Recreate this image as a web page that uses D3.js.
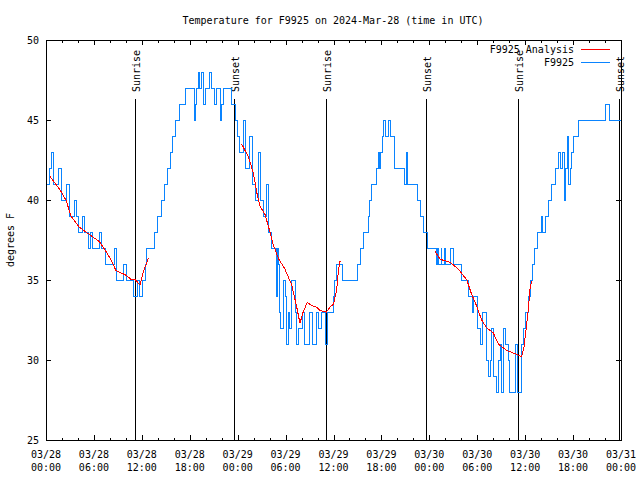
<!DOCTYPE html>
<html>
<head>
<meta charset="utf-8">
<script src="https://cdn.jsdelivr.net/npm/d3@7"></script>
<style>
  html, body { margin: 0; padding: 0; background: #fff; }
  svg { display: block; }
  text { font-family: "DejaVu Sans Mono", "Liberation Mono", monospace; font-size: 10px; fill: #000; }
</style>
</head>
<body>
<svg id="chart" width="640" height="480"></svg>
<script>
// ---- Data (time in hours since 2024-03-28 00:00 UTC) ----
const obsHours = [
  0.00, 0.50, 0.71, 0.92, 1.59, 1.96, 2.59, 2.92, 3.59, 3.84, 4.01, 4.59, 4.76, 5.34, 5.63, 5.84,
  6.68, 6.89, 7.51, 8.56, 8.85, 9.68, 10.02, 10.94, 11.48, 11.77, 12.10, 12.40, 12.60, 13.56, 13.98,
  14.40, 14.80, 15.20, 15.55, 15.90, 16.25, 16.70, 17.45,
  18.55, 18.70, 18.87, 19.07, 19.28, 19.49, 19.70, 19.91, 20.53, 20.74, 21.16, 21.37, 21.79, 22.00,
  22.20, 23.25, 23.67, 23.96, 24.29, 24.71, 24.92, 25.54, 25.88, 26.29, 26.59, 26.88, 27.21, 27.63,
  27.88, 28.26, 28.80, 28.97, 29.09, 29.22, 29.38, 29.72, 29.97, 30.13, 30.34, 30.55, 30.76, 31.22,
  31.39, 31.64, 32.14, 32.43, 33.05, 33.39, 33.81, 34.10, 34.52, 35.06, 35.29, 35.77, 36.06, 36.18,
  36.39, 37.15, 38.98, 39.32, 39.73, 40.36, 40.57, 40.78, 41.33, 41.62, 41.74, 41.91, 42.12, 42.24,
  42.45, 42.87, 43.16, 43.58, 44.83, 45.08, 45.29, 46.54, 46.87, 47.25, 47.79, 48.92, 49.00, 49.17,
  49.50, 49.58, 49.88, 50.04, 50.70, 51.08, 52.04, 52.92, 53.38, 53.59, 54.05, 54.35, 54.64, 55.18,
  55.39, 55.68, 55.81, 56.01, 56.43, 56.64, 56.85, 57.06, 57.27, 57.56, 57.89, 58.06, 58.73, 59.06,
  59.56, 59.85, 60.06, 60.40, 60.61, 60.90, 61.15, 61.49, 61.99, 62.20, 62.57, 62.90, 63.32, 63.74,
  64.16, 64.41, 64.66, 64.91, 65.08, 65.24, 65.41, 65.62, 65.83, 66.04, 66.74, 70.12, 70.58, 72.00
];
const obsTemps = [
  41, 42, 43, 41, 42, 40, 41, 39, 40, 39, 38, 39, 38, 37, 38, 37,
  38, 37, 36, 37, 35, 36, 35, 34, 35, 34, 35, 36, 37, 38, 39,
  40, 41, 42, 43, 44, 45, 46, 47,
  45, 46, 47, 48, 47, 48, 46, 47, 48, 47, 46, 47, 45, 46,
  47, 46, 45, 44, 43, 45, 42, 44, 41, 40, 43, 40, 39, 41,
  38, 37, 34, 37, 36, 33, 32, 35, 34, 31, 33, 32, 35, 33,
  31, 32, 33, 31, 33, 31, 33, 32, 33, 31, 33, 33, 34, 35,
  36, 35, 36, 37, 38, 39, 40, 41, 42, 43, 42, 43, 44, 45,
  44, 45, 44, 42, 41, 43, 41, 40, 39, 38, 37, 36, 37, 36,
  37, 36, 37, 36, 37, 36, 35, 34, 33, 34, 32, 31, 33, 30,
  29, 30, 32, 29, 28, 30, 31, 28, 32, 31, 30, 28, 31, 28,
  31, 32, 33, 34, 35, 36, 37, 38, 39, 38, 39, 40, 41, 42,
  43, 42, 43, 40, 42, 44, 41, 42, 43, 44, 45, 46, 45, 45
];

const anaHoursA = [0.5, 1.67, 2.5, 3.13, 4.17, 5.0, 5.84, 6.68, 7.5, 8.14, 8.76, 10.0, 10.6, 11.2, 11.77, 12.18, 12.52, 12.81, 12.95];
const anaTempsA = [41.46, 40.7, 40.0, 39.0, 38.3, 38.0, 37.7, 37.4, 36.8, 36.25, 35.6, 35.3, 35.06, 35.0, 34.7, 35.5, 35.95, 36.35, 36.4];
const anaHoursB = [24.5, 25.34, 25.96, 26.38, 26.8, 27.42, 28.05, 28.46, 29.1, 29.9, 30.76, 31.4, 31.8, 32.2, 32.72, 33.3, 33.9, 34.3, 35.1, 35.56, 36.0, 36.4, 36.6, 36.8, 36.95];
const anaTempsB = [43.5, 42.7, 41.7, 40.5, 39.6, 39.1, 38.0, 37.2, 36.35, 35.7, 34.7, 33.3, 32.3, 33.0, 33.6, 33.4, 33.3, 33.1, 33.0, 33.3, 33.5, 34.4, 35.5, 36.15, 36.2];
const anaHoursC = [48.7, 49.34, 50.6, 51.6, 52.7, 53.3, 53.9, 54.55, 55.18, 56.0, 56.64, 57.7, 58.7, 59.56, 59.85, 60.2, 60.4, 60.6, 60.8, 60.9];
const anaTempsC = [36.8, 36.3, 36.1, 35.7, 35.0, 34.1, 33.4, 32.5, 32.0, 31.7, 31.0, 30.6, 30.4, 30.2, 30.8, 32.3, 33.2, 34.4, 34.9, 34.95];

const sunHours = [11.18, 23.58, 35.10, 47.62, 59.14, 71.71];
const sunLabels = ["Sunrise", "Sunset", "Sunrise", "Sunset", "Sunrise", "Sunset"];

const xTickHours = [0, 6, 12, 18, 24, 30, 36, 42, 48, 54, 60, 66, 72];
const xTickDates = ["03/28", "03/28", "03/28", "03/28", "03/29", "03/29", "03/29", "03/29", "03/30", "03/30", "03/30", "03/30", "03/31"];
const xTickTimes = ["00:00", "06:00", "12:00", "18:00", "00:00", "06:00", "12:00", "18:00", "00:00", "06:00", "12:00", "18:00", "00:00"];
const yTicks = [25, 30, 35, 40, 45, 50];

const titleText = "Temperature for F9925 on 2024-Mar-28 (time in UTC)";
const yLabelText = "degrees F";
const seriesNames = ["F9925 Analysis", "F9925"];
const seriesColors = ["#ff0000", "#0a84ff"];

// ---- Drawing ----
const svg = d3.select("#chart");
const L = 46, R = 621, T = 40, B = 440;
const x = d3.scaleLinear().domain([0, 72]).range([L, R]);
const y = d3.scaleLinear().domain([25, 50]).range([B, T]);

// title
svg.append("text").attr("x", 333).attr("y", 24).attr("text-anchor", "middle").text(titleText);
// y label
svg.append("text").attr("transform", "translate(14,240) rotate(-90)").attr("text-anchor", "middle").text(yLabelText);

// x ticks every 2 hours (major every 6)
const minorHours = d3.range(0, 73, 2);
const tickG = svg.append("g").attr("stroke", "#000").attr("stroke-width", 1).attr("shape-rendering", "crispEdges");
minorHours.forEach(h => {
  const major = h % 6 === 0;
  const len = major ? 5 : 2.5;
  const xx = Math.round(x(h)) + 0.5;
  tickG.append("line").attr("x1", xx).attr("x2", xx).attr("y1", B).attr("y2", B - len);
  tickG.append("line").attr("x1", xx).attr("x2", xx).attr("y1", T).attr("y2", T + len);
});
yTicks.forEach(v => {
  const yy = Math.round(y(v)) + 0.5;
  tickG.append("line").attr("x1", L).attr("x2", L + 5).attr("y1", yy).attr("y2", yy);
  tickG.append("line").attr("x1", R).attr("x2", R - 5).attr("y1", yy).attr("y2", yy);
});

// tick labels
yTicks.forEach(v => {
  svg.append("text").attr("x", 39).attr("y", y(v) + 3.5).attr("text-anchor", "end").text(String(v));
});
xTickHours.forEach((h, i) => {
  svg.append("text").attr("x", x(h)).attr("y", 458).attr("text-anchor", "middle").text(xTickDates[i]);
  svg.append("text").attr("x", x(h)).attr("y", 470.5).attr("text-anchor", "middle").text(xTickTimes[i]);
});

// sunrise / sunset lines
sunHours.forEach((h, i) => {
  const xx = Math.round(x(h)) + 0.5;
  svg.append("line").attr("x1", xx).attr("x2", xx).attr("y1", 99).attr("y2", B)
    .attr("stroke", "#000").attr("stroke-width", 1).attr("shape-rendering", "crispEdges");
  svg.append("text").attr("transform", `translate(${xx + 4.5},92) rotate(-90)`)
    .attr("text-anchor", "start").text(sunLabels[i]);
});

// observations (step line)
const obs = obsHours.map((h, i) => [h, obsTemps[i]]);
const stepLine = d3.line().x(d => x(d[0])).y(d => y(d[1])).curve(d3.curveStepAfter);
svg.append("path").datum(obs).attr("d", stepLine)
  .attr("fill", "none").attr("stroke", seriesColors[1]).attr("stroke-width", 1).attr("shape-rendering", "crispEdges");

// analysis (red)
const anaLine = d3.line().x(d => x(d[0])).y(d => y(d[1]));
[[anaHoursA, anaTempsA], [anaHoursB, anaTempsB], [anaHoursC, anaTempsC]].forEach(([hs, ts]) => {
  svg.append("path").datum(hs.map((h, i) => [h, ts[i]])).attr("d", anaLine)
    .attr("fill", "none").attr("stroke", seriesColors[0]).attr("stroke-width", 1).attr("shape-rendering", "crispEdges");
});

// frame
svg.append("rect").attr("x", L + 0.5).attr("y", T + 0.5).attr("width", R - L).attr("height", B - T)
  .attr("fill", "none").attr("stroke", "#000").attr("stroke-width", 1).attr("shape-rendering", "crispEdges");

// legend
seriesNames.forEach((name, i) => {
  const yy = 49.5 + i * 13;
  svg.append("text").attr("x", 574).attr("y", yy + 3.5).attr("text-anchor", "end").text(name);
  svg.append("line").attr("x1", 581).attr("x2", 610).attr("y1", yy).attr("y2", yy)
    .attr("stroke", seriesColors[i]).attr("stroke-width", 1).attr("shape-rendering", "crispEdges");
});
</script>
</body>
</html>
